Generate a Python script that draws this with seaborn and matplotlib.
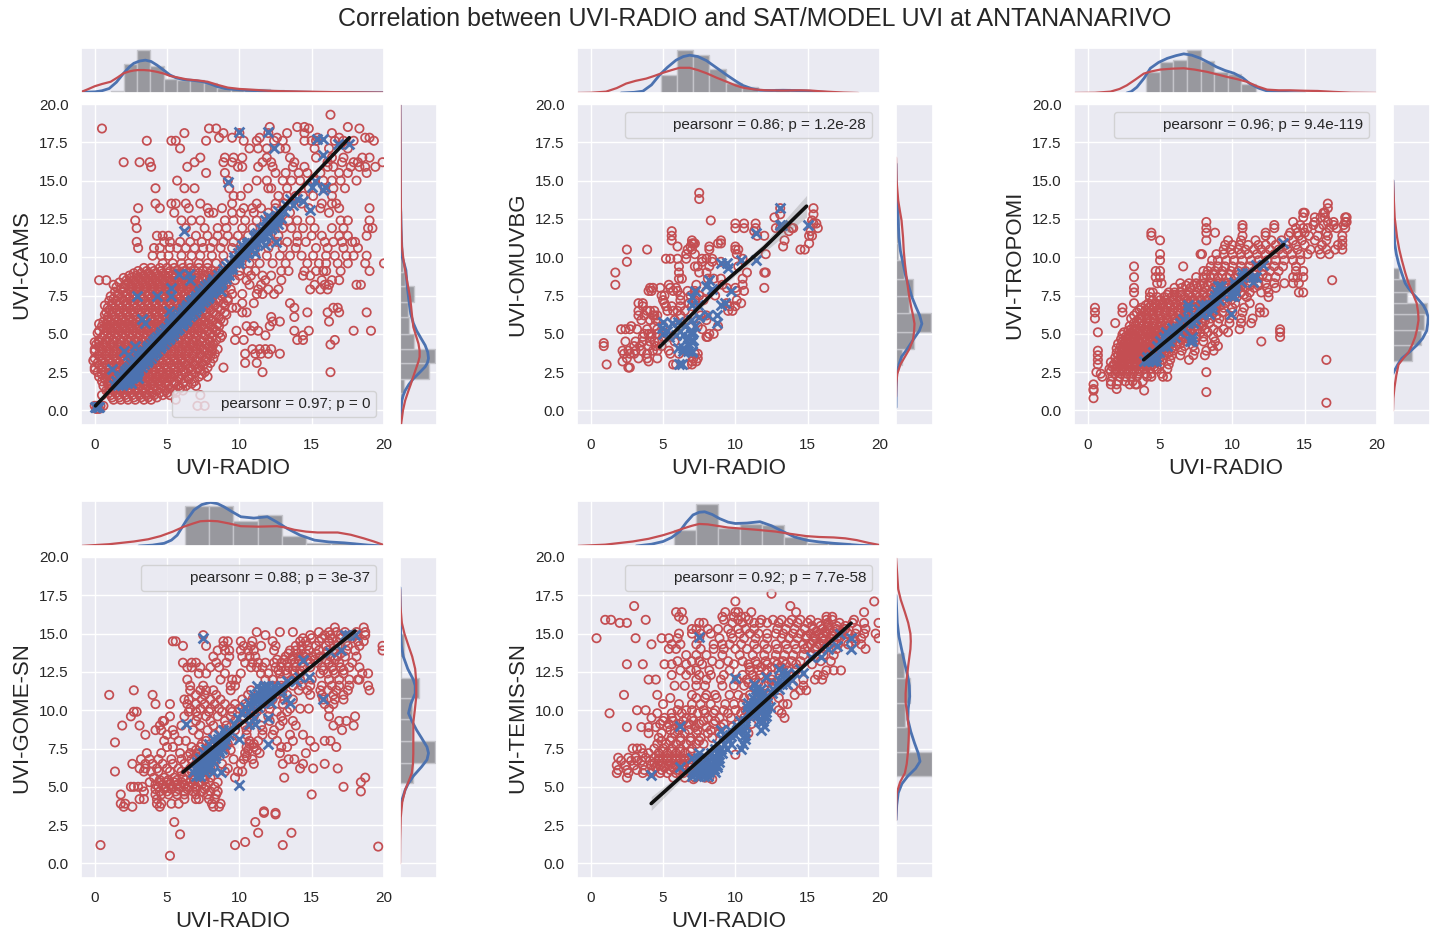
import matplotlib
matplotlib.use('Agg')
import matplotlib.pyplot as plt
from matplotlib.lines import Line2D
import pandas as pd
import seaborn as sns

# ---- scatter values, as {y: [x, x, ...]} ----
cams_red = {
 19.3:[16.3], 18.5:[12.1,14,17.5,14.5], 18.4:[0.5,7.9,8.4,18.3,14.8], 18.1:[6.2,8.9,10,12,16.4,13.3,14.5],
 17.8:[8.6,9.5,11.4,12.6,15.4,16.9,18.7,19], 17.6:[3.6,5.3,5.6,7.7,10.3,11.2,12.4,13,14.5,15,15.3,16.6,17.2,17.9,19.3],
 17.1:[5.9,10.7,11.3,11.9,12.8,13.2,15.2,16.2,17.5], 16.5:[7.3,9,9.6,10.2,11.9,13.5,16.4,18.5,19,15.3,17.2],
 16.2:[2,3.1,3.8,6.9,8.9,9.5,11.6,12.2,13.8,16.1,17.1,17.9,18.2,19.9], 15.9:[3.9,6.4,9.9,10.2,11.3,12.3,13.7,14.5,16.1,16.5,17.7,18.7,19.4,18.3],
 15.5:[7.7,9,12.5,13.2,14.1,14.7,15.6,16.9,17.5,18.8], 15:[5.7,9.2,11.2,11.9,13,13.6,14.2,15.2,15.8,16.4,17,18.1],
 14.5:[4.2,6.2,6.9,9.3,10.6,12,12.2,13.3,14.8,15.9,16.5,17.3], 14:[9.6,10.1,12.7,13.3,13.9,14.4,15.1,16.4],
 13.5:[5.3,5.6,4.2,6.3,7.3,9.5,11.2,12.5,13.1,13.6,14.3,15.7,16.4,16.7], 13.2:[3,4.5,6.5,8.8,7.8,10.3,10.9,11.5,12.5,14.8,15.6,16.9,19],
 12.9:[5.5,7.9,8.2,9.5,10.1,11,12,13.5,16.2], 12.4:[2.8,6,6.7,7.3,9,9.6,10.4,11.2,12,12.8,13.4,14,14.9,17,17.5,19],
 11.9:[2.9,6.3,7.6,8.5,9.1,10.2,10.9,11.6,12.2,13,13.6,14.4,15.2,16.4,17.2,18.9,19.2],
 11.4:[4.3,4.7,5.1,7,7.8,8.5,9.2,9.9,10.6,11.3,12,12.7,14,15,15.7,16.9,17.5,18.8],
 11:[2.9,4.8,5.2,5.9,6.6,7.4,8.2,8.9,9.6,10.3,11.1,11.9,12.6,13.3,14,14.6,15.9,16.5,17.1,17.8,18],
 10.6:[3,4.1,4.5,5.2,5.7,6.3,6.9,7.5,8,8.7,9.5,10.2,11,12,13,13.9,15.3,16.1,17.2,18.2],
 10.1:[4,4.6,5.1,6,6.7,7.3,8.1,8.9,9.7,10.4,11.1,11.9,12.8,13.5,14.3,15.1,16,16.6,17.4,17.9,18.8],
 9.6:[4.7,5.4,6,6.5,7.2,7.8,8.4,9,9.8,10.7,11.4,12.3,13.2,14.7,15.5,16,16.8,17.5,18.7,20],
 9.1:[3,3.6,4.1,4.6,5.2,5.7,6.3,6.9,7.5,8.1,8.7,10,10.6,11.1,12.9,13.4,14.5,15.3,15.8,16,17,19],
 8.8:[2.4,2.9,3.4,3.9,4.4,4.9,5.4,5.9,6.4,7,7.6,8.2,9.3,10,10.8,11.6,12.2,14.4,14.9],
 8.5:[0.3,0.8,2.2,2.7,3.2,3.7,4.2,4.7,5.2,5.7,6.2,6.7,7.2,7.7,8.3,9,9.7,10.5,11.8,12.9,15.7,16.4,16.9],
 8.2:[1.3,2.1,2.5,3,3.5,4,4.5,5,5.5,6,6.5,7,7.6,8.1,9.1,10.7,11.5,15.2,15.9,16.2,18.1,18.4],
 7.9:[1.8,2.4,2.9,3.4,3.9,4.4,4.9,5.4,5.9,6.4,6.9,7.4,7.9,8.5,9.4,11.3,12,12.7,14.9,15.6,16.1],
 7.6:[1.6,2.2,2.7,3.2,3.7,4.2,4.7,5.2,5.7,6.2,6.7,7.2,7.7,8.2,8.9,9.5,10.2,11.2,11.6,12.4],
 7.3:[1.3,1.9,2.4,2.9,3.4,3.9,4.4,4.9,5.4,5.9,6.4,6.9,7.4,7.9,8.5,9.2],
 7:[1.2,1.7,2.2,2.7,3.2,3.7,4.2,4.7,5.2,5.7,6.2,6.7,7.2,7.7,8.2,8.9,10.2,11,13.5],
 6.7:[0.9,1.4,1.9,2.4,2.9,3.4,3.9,4.4,4.9,5.4,5.9,6.4,6.9,7.4,7.9,8.5,9.5,9.8,13.8,16.5,16.8],
 6.4:[0.8,1.2,1.7,2.2,2.7,3.2,3.7,4.2,4.7,5.2,5.7,6.2,6.7,7.2,7.7,8.2,9,10.2,10.5,14.7,16.1,16.9,18.8],
 6.1:[0.9,1.4,1.9,2.4,2.9,3.4,3.9,4.4,4.9,5.4,5.9,6.4,6.9,7.4,7.9,8.6,12.2,13.8],
 5.8:[0.6,1.1,1.6,2.1,2.6,3.1,3.6,4.1,4.6,5.1,5.6,6.1,6.6,7.1,7.6,8.1,8.9,12.3,12.8,16.2],
 5.5:[0.5,0.9,1.4,1.9,2.4,2.9,3.4,3.9,4.4,4.9,5.4,5.9,6.4,6.9,7.4,8,8.6,10.5,11,12.1],
 5.2:[0.3,0.8,1.2,1.7,2.2,2.7,3.2,3.7,4.2,4.7,5.2,5.7,6.2,6.7,7.2,7.8,8.4,9.8,10.8,11.3,13.8,14.8,17.9,19.1],
 4.9:[0.6,1.1,1.6,2.1,2.6,3.1,3.6,4.1,4.6,5.1,5.6,6.1,6.6,7.1,7.6,8.2,8.8,11.8,14.4],
 4.6:[0.3,0.8,1.3,1.8,2.3,2.8,3.3,3.8,4.3,4.8,5.3,5.8,6.3,6.8,7.3,7.9,8.4,9.7,10.3,14,14.4,16.6],
 4.3:[0.1,0.6,1.1,1.6,2.1,2.6,3.1,3.6,4.1,4.6,5.1,5.6,6.1,6.6,7.1,7.7,8.2,16.3],
 4:[0,0.5,1,1.5,2,2.5,3,3.5,4,4.5,5,5.5,6,6.5,7,7.5,8.1,8.5,10.9,11.4,11.8,12.2],
 3.7:[0.3,0.8,1.3,1.8,2.3,2.8,3.3,3.8,4.3,4.8,5.3,5.8,6.3,6.8,7.3,7.9,8.3,10.4,11.1,11.5,12,12.8],
 3.4:[0,0.5,1,1.5,2,2.5,3,3.5,4,4.5,5,5.5,6,6.5,7.1,7.7,8.2],
 3.1:[0.2,0.7,1.2,1.7,2.2,2.7,3.2,3.7,4.2,4.7,5.2,5.7,6.2,6.8,7.4,8,10.4,11.2],
 2.8:[0,0.5,1,1.5,2,2.5,3,3.5,4,4.5,5,5.5,6,6.6,7.2,7.8,8.9],
 2.5:[0.2,0.7,1.2,1.7,2.2,2.7,3.2,3.7,4.2,4.7,5.2,5.7,6.3,7,7.6,11.6,16.3],
 2.2:[0.3,0.8,1.3,1.8,2.3,2.8,3.3,3.8,4.3,4.8,5.3,5.8,6.5,7.2,7.8],
 1.9:[0.5,1,1.5,2,2.5,3,3.5,4,4.5,5,5.5,6.2,6.9],
 1.6:[0.6,1.1,1.6,2.1,2.6,3.1,3.6,4.1,4.6,5.1,5.8,6.3,7],
 1.3:[0.8,1.3,1.8,2.3,2.8,3.3,3.8,4.3,4.9,5.5,6.1],
 1:[0.5,1.1,1.6,2.1,2.6,3.1,3.6,4.1,4.7,5.2,7.3],
 0.7:[1.3,1.8,2.3,2.8,3.4,3.9,5.6], 0.3:[0,0.2,0.4,0.6,7.1,7.6], 0.1:[0.1,0.3],
 # the thick part of the cloud
 9.3:[3.4,3.9,4.5,5,5.5,6.1,6.6,7.2,7.8], 8.95:[2.7,3.2,3.7,4.2,4.7,5.1,5.6,6.1,6.6,7.2,7.9,8.4],
 8.65:[2,2.5,3,3.5,4,4.5,5,5.5,6,6.5,7,7.4,8,8.6], 8.35:[1.7,2.3,2.8,3.3,3.8,4.3,4.8,5.3,5.8,6.3,6.8,7.3,7.9,8.6],
 8.05:[1.5,2,2.6,3.1,3.6,4.1,4.6,5.1,5.6,6.1,6.6,7.2,7.7,8.3,8.9], 7.75:[1.4,2,2.5,3,3.5,4,4.5,5,5.5,6,6.5,7,7.5,8.1,8.7],
 7.45:[1.1,1.6,2.2,2.7,3.2,3.7,4.2,4.7,5.2,5.7,6.2,6.7,7.2,7.7,8.2,8.8], 7.15:[1,1.5,2,2.5,3,3.5,4,4.5,5,5.5,6,6.5,7,7.5,8,8.6,9.2],
 6.85:[0.7,1.2,1.7,2.2,2.7,3.2,3.7,4.2,4.7,5.2,5.7,6.2,6.7,7.2,7.7,8.3,9], 6.55:[1,1.5,2,2.5,3,3.5,4,4.5,5,5.5,6,6.5,7,7.5,8,8.7],
 6.25:[0.7,1.2,1.7,2.2,2.7,3.2,3.7,4.2,4.7,5.2,5.7,6.2,6.7,7.2,7.7,8.4,9.1], 5.95:[0.9,1.4,1.9,2.4,2.9,3.4,3.9,4.4,4.9,5.4,5.9,6.4,6.9,7.4,8,8.7],
 5.65:[0.3,0.8,1.3,1.8,2.3,2.8,3.3,3.8,4.3,4.8,5.3,5.8,6.3,6.8,7.3,7.9,8.5], 5.35:[0.6,1.1,1.6,2.1,2.6,3.1,3.6,4.1,4.6,5.1,5.6,6.1,6.6,7.1,7.6,8.2],
 5.05:[0.2,0.9,1.4,1.9,2.4,2.9,3.4,3.9,4.4,4.9,5.4,5.9,6.4,6.9,7.4,8,8.6], 4.75:[0.5,1,1.5,2,2.5,3,3.5,4,4.5,5,5.5,6,6.5,7,7.5,8.1,8.7],
 4.45:[0,0.3,0.8,1.3,1.8,2.3,2.8,3.3,3.8,4.3,4.8,5.3,5.8,6.3,6.8,7.4,8], 4.15:[0.3,0.8,1.3,1.8,2.3,2.8,3.3,3.8,4.3,4.8,5.3,5.8,6.3,6.8,7.3,7.9],
 3.85:[0,0.5,1,1.5,2,2.5,3,3.5,4,4.5,5,5.5,6,6.5,7,7.6,8.1], 3.55:[0.3,0.8,1.3,1.8,2.3,2.8,3.3,3.8,4.3,4.8,5.3,5.8,6.3,6.8,7.4,8],
 3.25:[-0.1,0.5,1,1.5,2,2.5,3,3.5,4,4.5,5,5.5,6,6.5,7.1,7.7], 2.95:[0.3,0.8,1.3,1.8,2.3,2.8,3.3,3.8,4.3,4.8,5.3,5.8,6.3,6.9,7.5],
 2.65:[0,0.5,1,1.5,2,2.5,3,3.5,4,4.5,5,5.5,6.1,6.7,7.3], 2.35:[0.5,1,1.5,2,2.5,3,3.5,4,4.5,5,5.5,6,6.7,7.4],
 2.05:[0.7,1.2,1.7,2.2,2.7,3.2,3.7,4.2,4.7,5.2,5.8,6.5], 1.75:[0.9,1.4,1.9,2.4,2.9,3.4,3.9,4.4,4.9,5.5,6.1,6.7],
 1.45:[1,1.5,2,2.5,3,3.5,4,4.6,5.2,5.9], 1.15:[1,1.5,2,2.5,3,3.5,4,4.5,5,5.6], 0.85:[1.2,1.7,2.2,2.7,3.2,3.7,4.3],
}
cams_blue = {
 18.2:[10,12], 17.7:[15.4,15.8], 17.4:[16.8,17.6], 17.1:[12.4], 16.7:[15.8], 15:[15.2], 14.9:[9.2], 14.6:[15,15.9], 14.4:[15.8],
 13.7:[14.4], 13.1:[14.9], 11.7:[6.2], 8.9:[5.8,6.5], 8.5:[6.6], 8:[5.3], 6.5:[5.1], 0.2:[0,0.1,0.2,0.3],
 2.7:[1.2,2.2,2.7,3], 2.4:[2,2.3,2.6,2.9], 2.1:[1.7,2,2.3,2.6,3], 1.8:[1.6,1.9,2.2,2.5], 3:[2.5,2.8,3.1,3.4], 3.3:[2.8,3.1,3.4,3.7],
 3.6:[2.3,3.2,3,3.4,3.7,4], 3.9:[2,3.6,3.4,3.7,4,4.3], 4.2:[2.8,3.7,4,4.3,4.6], 4.5:[4,4.3,4.6,4.9], 4.8:[4.3,4.6,4.9,5.2], 5.1:[4.6,4.9,5.2,5.5],
 5.4:[4.9,5.2,5.5,5.8], 5.7:[3.5,5.2,5.5,5.8,6.1], 6:[3.3,5.5,5.8,6.1,6.4], 6.3:[5.8,6.1,6.4,6.7], 6.6:[6.1,6.4,6.7,7], 6.9:[6.4,6.7,7,7.3],
 7.2:[6.7,7,7.3,7.6], 7.5:[2.9,4.3,5.3,7,7.3,7.6,7.9], 7.8:[7.3,7.6,7.9,8.2,8.7], 8.1:[7.6,7.9,8.2,8.5], 8.4:[8.1,8.4,8.7], 9:[8.9,9.2], 9.4:[9.1,9.5], 9.8:[9.6,10],
 10.3:[9.9,10.3,10.6,11.1], 10.8:[10.2,10.5,10.9,11.8], 11:[10.7,11.1,12.5], 11.3:[11,11.4,11.7], 11.6:[11.2,11.6,12], 12:[11.7,12.1,12.4],
 12.4:[11.8,12.3,12.6], 12.7:[12,12.6], 13:[12.7,13.1], 13.4:[13.2,13.7], 13.8:[14,13.5],
 # the solid part of the band
 1.65:[1.3,1.6,1.9], 1.95:[1.5,1.8,2.1,2.4], 2.25:[1.8,2.1,2.4,2.7], 2.55:[2.1,2.4,2.7,3], 2.85:[2.4,2.7,3,3.3], 3.15:[2.7,3,3.3,3.6], 3.45:[3,3.3,3.6,3.9],
 3.75:[3.3,3.6,3.9,4.2], 4.05:[3.6,3.9,4.2,4.5], 4.35:[3.9,4.2,4.5,4.8], 4.65:[4.2,4.5,4.8,5.1], 4.95:[4.5,4.8,5.1,5.4], 5.25:[4.8,5.1,5.4,5.7],
 5.55:[5.1,5.4,5.7,6], 5.85:[5.4,5.7,6,6.3], 6.15:[5.7,6,6.3,6.6], 6.45:[6,6.3,6.6,6.9], 6.75:[6.3,6.6,6.9,7.2], 7.05:[6.6,6.9,7.2,7.5],
 7.35:[6.9,7.2,7.5,7.8], 7.65:[7.2,7.5,7.8,8.1], 7.95:[7.5,7.8,8.1,8.4], 8.25:[7.8,8.1,8.4,8.7], 8.55:[8.2,8.5,8.8,9.1], 8.85:[8.5,8.8,9.1,9.3],
 9.2:[8.9,9.3,9.5], 9.6:[9.3,9.7,10], 10:[9.6,10,10.4], 10.5:[10.1,10.4,10.8], 10.95:[10.5,10.9,11.3], 11.45:[11.1,11.5,11.8], 11.85:[11.5,11.9,12.2],
 12.2:[11.9,12.3,12.7], 12.55:[12.2,12.6,12.9],
}
omuvbg_red = {
 14.2:[7.5], 13.8:[7.5], 13.2:[13.1,15.4], 12.8:[13.1,15.4], 12.6:[12.7], 12.4:[8.3,15.3], 12.2:[10,10.6,11.4,15.4,15.6],
 11.9:[10,10.6,11.4,12.8,13.9,14,15.7,13.1], 11.7:[5.6,11.3,15.2,13.7], 11.4:[5.6,11.5,12,15.1,15.3], 11.1:[5.6,9,7,13.4],
 10.9:[7,7.1,7.2,8.8,9,15.1], 10.7:[6,6.9,10,8.2,13.3], 10.5:[2.5,3.9,6.7,7,8.2,10,10.2,14.5,14.8], 10.2:[10.1,6.6,7.2,12.1],
 9.9:[5.2,5.5,6,6.6,7.7,8,8.4,10.5], 9.7:[2.5,7.7,8.4,9], 9.4:[6.1,7.2,7.4,8.2,10.2], 9:[1.7,6.1,7.5,8,10.8,12.1,12],
 8.6:[6.1,6.3,8.5,9,10.5,8.1], 8.2:[1.7,5.4,7.3,10.5,9.1], 8:[4.1,4.3,4.8,5.5,5.9,9.4,10,12], 7.8:[4,4.2,5.7,6,6.7,7.2,8,10.1,10.6],
 7.5:[4.9,5.1,6.2,6.9,7.5,8.6], 7.2:[5,6.2,7.2,7.8,10.1], 7:[3.3,3.6,5.1,6.8,9.4,10.4], 6.8:[3.6,5.2,5.6,6.2,7,9.6,10],
 6.5:[3.3,3.9,4.1,4.4,5.3,5.7,6,6.5,9.5,9.8], 6.2:[3.3,3.7,4.3,4.4,4.6,6.2,7.6,8], 5.9:[3.5,4.1,4.5,5.8,6.7,8], 5.5:[2.8,4.4,5,7.4,8.8],
 5.3:[2.1,2.4,2.7,3.2,3.9,4.6,7.7], 5:[3.7,4,4.2,4.6,5.2,8.2,8.5], 4.8:[3.6,4.2,5,5.5,8,8.1], 4.5:[2.4,3.1,3.6,4.1,4.4,4.7,5.8],
 4.4:[0.9], 4.2:[0.9,3,3.4,4,4.5,4.9], 3.9:[2.2,2.6,3.1,3.5,4.3,4.6,5.4], 3.7:[2.3,2.7,3,3.9,5.5,6.1,7.4,7.2],
 3.4:[2.5,3.3,3.9,4.6,7.1,7.4], 3.2:[2.2,4,7,7.3], 3:[1.1,5.7,5.9,6.7,7], 2.8:[2.6,2.7],
}
omuvbg_blue = {
 13.2:[13.1], 12.1:[13.2,13.1,15], 11.6:[11.4], 9.8:[10.4,11.4], 9.6:[9,9.4], 9.3:[9.5], 8.5:[8.2], 8.1:[8], 7.9:[8.4], 7.8:[7.2,9.7],
 7.4:[7], 7:[9.3], 6.9:[7,7.4,9], 6.2:[8.1,8.7], 6.1:[7.5], 5.9:[6.9], 5.8:[5,6], 5.7:[5.6,8.7], 5.5:[7.2,6.5], 5.4:[4.9], 5.2:[5.3,6.2,7],
 5:[5,7,6.9], 4.9:[5.9,6.4], 4.8:[5.4,6.7], 4.6:[6.6,7.1], 4.5:[7,6.9], 4.2:[6.8], 4.1:[6,6.4], 3.9:[6.4,6.7,7], 3.8:[7], 3:[6.1,6.3],
}
tropomi_red = {
 13.5:[16.6], 13.2:[16.6], 12.9:[14.9,15,16.3,16.4], 12.6:[14.9,15.7,16.1,16.4,17.8,17.9], 12.3:[8.2,14.2,15.7,16.6,17,17.8,17.9],
 12.1:[10.7,12.9,14.7,15.6,16.3,17,17.7], 11.9:[8.2,10.7,12.9,14.4,14.9,15.2,16,16.7,17.2,17.8], 11.6:[4.4,8.2,8.8,12.3,14,14.5,15,16.5],
 11.4:[4.4,10.7,12.3,13.9,14.6,15.3,15.9,16.6,17.6], 11.1:[5,8.2,9.7,10.6,11.6,12.7,13.4,14.2,14.8,15.7,16.5,17.6],
 10.8:[9.5,10,10.5,11.1,11.8,12.3,13,13.7,14.4,15,16.2,17.3,17.6], 10.5:[9.4,9.9,10.4,10.9,11.5,12,12.6,13.2,13.8,14.5,15.4,16,16.5,17.1,17.6],
 10.2:[5,7.8,7.9,8.9,9.4,10,10.6,11.1,11.7,12.3,12.9,13.5,14.1,14.7,15.2,16.1,16.7], 9.8:[5,8.6,9,9.6,10.1,10.7,11.3,11.8,12.4,13,13.6,14.2,14.7],
 9.4:[3.2,6.6,8.5,9,9.5,10,10.6,11.2,11.7,12.3,12.9,13.5,14.4], 9.1:[4.7,5,8,8.3,8.8,9.3,9.9,10.4,10.9,11.5,12.1,12.6,13.2,14.4,14.9],
 8.7:[3.2,4.7,5,7.5,8,8.5,9,9.6,10.2,10.7,11.3,11.8,12.4,13,14.2,14.5,14.9], 8.5:[16.9],
 8.3:[4.8,5.1,6.4,7,7.5,8,8.5,9,9.5,10.1,10.6,11.2,11.8,12.3,12.9,13.6,14.2,14.6], 8:[3.2,6,6.5,7.1,7.6,8.1,8.7,9.2,9.7,10.3,10.9,11.5,12.4,13],
 7.7:[3.2,4.3,4.5,5.6,6,6.4,7,7.5,8,8.5,9,9.5,10,10.6,11.2,12,12.5,14.6,14.9], 7.4:[4.3,4.8,5.3,5.8,6.2,6.7,7.2,7.7,8.2,8.7,9.2,9.7,10.3,11,12.5],
 7:[3.2,4.2,4.7,5.2,5.6,6.1,6.6,7,7.5,8,8.5,9,9.5,10.2,11.2], 6.7:[0.5,2.4,3.7,4.2,4.6,5,5.5,6,6.4,6.9,7.4,7.9,8.4,8.9,9.4,10,10.8,11.9],
 6.4:[0.5,2.4,3.4,3.9,4.3,4.8,5.3,5.7,6.2,6.7,7.2,7.7,8.2,8.7,9.3,10,10.7,11.9,12.2], 6:[0.5,3,3.6,4.1,4.6,5,5.5,6,6.5,7,7.5,8,8.5,9.1,9.8,10.6,11.4],
 5.7:[1.9,3.2,3.6,4.1,4.5,5,5.4,5.9,6.4,6.9,7.4,7.9,8.4,9,9.8,10.6,11.3], 5.3:[3,3.4,3.9,4.3,4.8,5.2,5.7,6.1,6.6,7.1,7.6,8.1,8.7,9.4,10.5,13.3],
 5.1:[0.7,2.5,3,3.5,4,4.4,4.8,5.3,5.8,6.2,6.7,7.2,7.8,8.3,9,9.7,13.3], 4.8:[2.6,3,3.4,3.9,4.3,4.7,5.2,5.6,6,6.5,7,7.5,8,8.7,13.3],
 4.5:[2.4,2.8,3.2,3.6,4,4.5,4.9,5.3,5.8,6.3,6.8,7.4,8,8.8,12], 4.2:[2.3,2.7,3.1,3.5,3.9,4.3,4.7,5.1,5.6,6.1,6.7,7.3,8.6,9],
 3.9:[0.7,2.2,2.5,2.9,3.3,3.7,4.1,4.5,5,5.4,5.9,6.5,7.4,8.2,8.7], 3.6:[0.7,2.1,2.4,2.8,3.2,3.6,4,4.4,4.8,5.3,5.8,6.4,7.3,8.1],
 3.3:[0.7,2.1,2.4,2.7,3,3.4,3.8,4.2,4.7,5.2,5.7,7,16.5], 3:[0.7,1.8,2.2,2.5,2.9,3.3,3.7,4.1,4.5,5,5.6], 2.7:[1.5,1.9,2.3,2.7,3.1,3.5,3.9,4.3,4.8,5.5],
 2.5:[0.6,8.2], 2.4:[0.9,1.9,2.3,2.7,3.1,3.5,4,4.4,5.1], 2.2:[1,1.7,2.2,2.6,3,3.4,4.1,4.4,5.2,5.5], 1.9:[1.6,2.1,2.6,3.1,3.8],
 1.7:[0.4,1.6,2,2.9,3.3,3.4], 1.4:[0.4,2], 1.3:[0.4,3.9], 1.2:[8.2], 0.8:[0.4], 0.5:[16.5],
 # the thick part of the band
 8.85:[8.2,8.7,9.3,9.8,10.4,10.9,11.5,12.1], 8.15:[6.8,7.3,7.8,8.3,8.9,9.4,10,10.6,11.2,11.8], 7.55:[5.5,6,6.5,7,7.5,8,8.5,9,9.6,10.2,10.8],
 7.2:[4.5,5,5.4,5.9,6.4,6.9,7.3,7.8,8.3,8.8,9.3,9.9], 6.85:[4,4.4,4.8,5.2,5.7,6.2,6.7,7.2,7.7,8.2,8.7,9.2], 6.55:[3.6,4,4.4,4.9,5.4,5.9,6.3,6.8,7.3,7.8,8.3,8.8],
 6.2:[3.2,3.7,4.1,4.5,5,5.4,5.9,6.3,6.8,7.3,7.8,8.3,8.9], 5.85:[3.4,3.8,4.3,4.7,5.2,5.6,6.1,6.6,7.1,7.6,8.1], 5.5:[2.9,3.3,3.7,4.1,4.5,5,5.5,5.9,6.4,6.9,7.4,7.9],
 5.2:[2.8,3.2,3.6,4.1,4.6,5,5.5,5.9,6.4,6.9,7.4], 4.95:[2.4,2.8,3.2,3.7,4.1,4.5,5,5.4,5.8,6.3,6.8], 4.65:[2.3,2.7,3.1,3.5,3.8,4.3,4.7,5.1,5.5,6,6.5,7],
 4.35:[2.1,2.5,2.9,3.3,3.7,4.1,4.5,4.9,5.3,5.8,6.4], 4.05:[2,2.4,2.8,3.2,3.6,4,4.4,4.8,5.3,5.8], 3.75:[2,2.3,2.7,3.1,3.5,3.9,4.3,4.7,5.1,5.6],
 3.45:[1.9,2.3,2.6,3,3.4,3.8,4.1,4.5,5], 3.15:[1.6,2,2.4,2.8,3.2,3.6,4,4.4,4.8], 2.85:[1.7,2.1,2.5,2.9,3.3,3.7,4.1,4.6], 2.55:[1.6,2,2.4,2.8,3.2,3.6],
}
tropomi_blue = {
 3.2:[3.9,4.2,4.5,4.7], 3.5:[4.1,4.4,4.7], 3.8:[4.5,4.9], 4.2:[4.8,5.2,5.5], 4.5:[5,5.4,5.6,7.1,7.2], 4.8:[5.3,5.7,6,7.2], 5.1:[5.4,5.9,6.3],
 5.4:[5.8,6.2,6.6], 5.7:[6.4,6.9,7.3], 6:[6.6,7,7.4], 6.3:[7.8,8,8.4,9.9], 6.6:[6.9,7.7,8.2,8.6], 6.9:[6.9,7.9,8.2,8.6], 7.2:[8.7,9.1],
 7.5:[8.8,9.3,9.9,10.1], 7.8:[8.9,9.2,10,10.2], 8.1:[9,10.2,9.2], 8.4:[10.1,10.6,11.4], 8.7:[10.7,11.4,11.6], 9:[10.7,11], 9.5:[11.6,12.1], 10.9:[13.5],
}
gome_red = {
 15.4:[16.6,18.6], 15.1:[11.2,12.8,13.7,15.5,16.2,16.7,17.3,18.1,18.7], 14.9:[7.5,11.8,14.9,15.9,16.3,17,17.7,18.1,18.7],
 14.5:[5.4,5.6,8.9,9.2,10.1,10.9,12.3,14.2,14.6,15.5,16.2,16.7,17.4,18.2,18.6], 14.2:[6.1,7.7,8.9,10.3,10.8,11.5,12.5,13.9,14.3,14.7,15.3,16,16.8,17.5,18.3,19.9],
 13.9:[8.5,9,9.3,10.1,10.6,11,12.4,13.5,13.9,14.3,14.8,15.5,16.1,16.6,17.4,18,19.9], 13.5:[8.2,9.3,10.2,10.7,11.1,13.2,13.7,14.1,14.5,15,15.6,16.3,16.8,17.3,18.1],
 13.1:[6.1,6.7,7,8.4,9.1,10.4,10.9,11.3,11.8,12.4,12.9,13.3,13.8,14.3,14.9,15.4,16.2,16.9,17.8], 12.8:[6.4,6.7,7.3,8,8.6,10.8,11.2,11.6,12.5,12.9,13.4,13.9,14.4,14.9,15.7,16.4,17,17.6,18.3],
 12.4:[7.2,7.7,9,10.1,11.5,12,12.8,13.3,13.8,14.2,15.6,16.1,16.6,17.2,18.5,18.9], 12:[6.4,8.7,9.5,9.8,11.8,12.3,12.9,13.6,14.2,15,16.2,16.9,17.6,18.2,18.3],
 11.6:[6.6,7.5,9.4,9.7,12.3,12.9,13.7,14.3,14.9,15.7,16.4,16.9,17.6,18.9], 11.3:[2.7,6.6,7.3,7.7,8.2,9.4,10.8,13,14.1,14.7,15.6,16.1,16.7,17.5,19],
 11:[1,4,7,7.6,8.4,10.6,11.7,12.5,13.3,14.9,15.7,16.5,17.2], 10.7:[6.2,6.5,7.4,8,8.7,10.2,10.9,11.5,12.3,13.1,13.7,15.8,16.6,17.2],
 10.4:[4.2,5.2,6.4,7,7.6,8.3,9,9.7,10.4,11.2,12.1,13,15.9,16.5], 10.1:[6.6,7.3,8,8.6,9.4,10,10.8,11.5,12.1,13.5,14.2,14.8,16.2],
 9.9:[2.7,2.9,6.5,7,7.9,8.8,9.5,10.3,11.2,12.6,13.3], 9.6:[2.5,5.2,6.2,7.1,7.7,8.5,9.4,10.3,11,12,12.9,16.2,18],
 9.3:[4.7,4.8,7,8,9,9.7,10.7,12.1,13,13.7,16.9,17.4], 9:[1.9,3.1,4.5,6,7.3,8.2,9.1,10.4,11.5,12.8,13.9,16.5,17.9],
 8.7:[4.2,4.6,5.4,6.8,7.8,8.7,9.7,10.5,11.6,12.4,17.1], 8.4:[3.5,5,5.5,7.2,8.3,9.1,10.5,11.6,12.3,13.5,14.4],
 8:[4.8,5.8,6.3,7.7,8.4,9.5,10.7,11.3,12.6,13.7,14.9,15.9,16.3], 7.9:[1.4], 7.6:[5,5.4,6.7,7.3,8.2,9,10.5,11,12.9,13.3,15.2,16.7],
 7.2:[3.6,4.6,5.9,6.6,7.2,8,9,10.4,11.4,12.8,14.6], 6.8:[3.2,3.8,4.4,5.3,6,6.7,7.3,8.3,9.6,10.3,10.9,13.4,13.8],
 6.5:[2.6,3.5,4,4.7,5.4,6.2,7,7.8,8.8,10.1,11,13,14.4,15.9], 6.2:[3.1,3.5,4.3,5,5.8,6.6,7.3,8,9.2,14.2,15.1,16.8],
 6:[1.4,3.4,3.9,4.4,5.2,6,6.7,7.5,9,9.9,10.2], 5.6:[4.1,4.8,5.5,6.1,6.8,7.5,8,9.7,13.1,18.7], 5.3:[3.8,4.5,5,5.5,6,6.6,7.2,7.9,8.5,18.4],
 5:[2.5,2.7,3,3.3,4.4,4.9,5.3,5.9,6.5,7,7.7,8.3,17.2], 4.7:[3.4,4.5,5,5.6,6.2,6.8,7.4,8,8.5,18.4], 4.5:[1.8,4.2,4.6,5.1,5.7,6.2,7,7.8,8.4,15],
 4.2:[3.1,3.4,4.3,6.2,7,7.2,7.9,8.3], 3.9:[1.8,2.1,4.3,4.6,5.3,5.8,8.1,8.7], 3.7:[2,2.6,4.5,8.2,8.6], 3.4:[11.7], 3.3:[11.7,12.5], 3.2:[12.5],
 2.7:[5.5,11.1], 2:[11.3,13.6], 1.9:[5.9], 1.4:[10.4], 1.2:[0.4,9.7,13], 1.1:[19.6], 0.5:[5.2],
 # the thicker clumps
 14.7:[14.4,15,15.7,16.4,17,17.8], 13.7:[13.4,14,14.6,15.3,16,17], 13.3:[12.6,13.1,13.6,14.1,14.7,15.2,16,16.6], 12.6:[12.7,13.2,13.7,14.2,15.8,16.5,17.2],
 7.8:[7.4,8,8.6,9.2,10.7,11], 7.4:[7,7.7,8.4,9.4,10.6,11.2], 7:[6.4,7,7.6,8.4,10.5], 5.45:[4.5,5.1,5.7,6.3,6.9,7.6], 5.15:[4.2,4.7,5.2,5.7,6.2,6.8,7.4],
 4.85:[4.2,4.8,5.3,5.8,6.4,7,7.6],
}
gome_blue = {
 5.7:[7,7.3], 5.1:[10], 6:[6.8,7.2,7.6,8.2,8.7], 6.3:[7,7.3,7.6,8], 6.6:[7.1,7.5,7.8,8.2], 6.9:[7.3,7.6,7.9,8.3], 7.2:[7.5,7.9,8.2,8.6],
 7.5:[7.7,8.1,8.5,8.8], 7.8:[7.9,8.3,8.7,9,12], 8.1:[8.2,8.5,9,10], 8.4:[8.6,9,9.3], 8.7:[8.9,9.3], 9.1:[6.3,9.6,10.7,11.1], 9.5:[9.9,11,12],
 9.9:[10.2,10.6], 10.2:[10.4,10.8,11.3], 10.5:[10.7,11,11.4,12.2,13.5], 10.7:[11,11.3,11.7,13.2,15.8], 11:[11,11.4,11.8,12.2], 11.3:[11.4,11.7,12.1,12.5,12.9],
 11.6:[11.2,11.7,12,12.4,12.9], 11.9:[13.3,13.9], 12.2:[14.8,14.1], 13.3:[14.4], 13.8:[16.3], 13.9:[17], 14.7:[7.5], 14.9:[17.3,17.6,18],
 6.15:[6.9,7.2,7.5,7.8], 6.45:[7.2,7.5,7.9], 6.75:[7.4,7.7,8.1], 7.05:[7.6,8,8.4], 7.35:[7.9,8.2,8.6],
}
temis_red = {
 17.6:[12.5], 17.1:[10,19.6], 16.8:[3,13.8], 16.4:[5.9,6.3,9.3,10,10.2,11.1,14.2,18.9], 16.1:[6.1,9.1,9.9,10.4,10.7,16.3,16.7],
 15.9:[1,1.4,3.8,6.4,9.2,10.2,10.9,11.8,12.6,13.2,13.9,14.5,15.2,16.3,16.7,18.2], 15.7:[2,2.5,7.5,7.8,9.8,10.5,11.3,11.7,12.2,13,13.7,14.3,15,15.7,16.4,17.2,18.1,18.9,19.9],
 15.3:[7,7.3,8.1,8.8,9.5,10.2,10.7,11.3,12.9,13.5,14.1,14.8,15.4,16,16.5,17,17.6,18.4,19], 15:[6.1,7,7.6,8.3,9.7,10.3,11,11.6,12.2,12.8,13.3,14,14.5,15.2,15.8,16.3,16.7,17.4,17.8,18.3,18.9,19.7],
 14.7:[0.4,3.1,4.9,5.4,6,7.5,8.9,9.8,10.6,11.4,12.2,13.2,13.7,14.3,14.9,15.5,16,16.6,17.2,18.1,18.7,19.9], 14.3:[4.2,5.6,6.2,7.3,8.5,9.1,9.6,10.4,11.3,12,12.8,13.5,14.1,14.7,15.2,15.8,16.5,17.1,17.8,18.7],
 14:[5.4,5.9,7.6,8.5,9.2,10,10.8,11.5,12.2,12.9,13.6,14.2,14.8,15.5,16.2,17,19], 13.6:[6.6,7.3,8,9.1,10.3,11.2,12,12.8,13.4,14,14.7,15.3,16.1,16.8],
 13.2:[6,7,7.5,8.4,9.5,10.5,11.4,12.1,12.7,13.3,13.9,14.5,15.9,16.6], 13:[2.5,3.6,5.1,5.6,6.6,7.7,8.9,9.9,10.9,11.5,12.2,12.9,13.5,14.2,15.3],
 12.6:[6.2,6.9,7.3,8.2,9.6,11,11.6,12.2,13,13.6,14.2,16.3,16.8,17.3], 12.3:[5.6,6.6,7.5,8.3,9.2,10.5,11.2,11.7,12.5,13.1,13.8,15.7,16.1],
 12:[4,4.5,7.3,8,9,10.1,10.8,11.4,12.5,14.7,15.5,16], 11.6:[5.8,6.5,7.3,7.9,9.1,9.9,10.6,11.2,12,12.7,14,14.7], 11.3:[14.5,14.9],
 11:[2.3,4.6,7,8,8.6,9.6,10.2,11,11.8,12.4,14.1], 10.8:[5.5,7.3,7.9,8.7,10.6,11.7,13], 10.4:[5,6.1,7,7.6,8.3,9.3,9.9,10.5,11.2,12.3,13.3,13.6],
 10:[3.2,3.8,6,6.6,7,7.8,8.6,9.2,10,10.7,11.4,12.2,13], 9.8:[1.3,4.6,5.6,6.3,7.4,7.9,8.5,9.5,10.4,13.2], 9.5:[4.2,5.1,5.6,6.6,7,8.1,8.9,9.7,10.6,11.9,13.4],
 9.1:[4.8,5.4,6.1,6.8,7.5,8.5,9.2,10.2,11.1], 8.9:[2.5,3.5,4,4.5,5.3,6.2,7.2,8,9,9.8], 8.5:[4,4.9,5.8,6.5,7.3,8.1,8.9,10.9], 8.2:[4.7,5.6,6.2,6.9,7.6,8.4],
 7.8:[4.6,5.2,5.9,6.6,7.3,7.8], 7.5:[2.9,3.2,3.5,4.4,5,5.6,6.2,7], 7.2:[3.6,4,4.7,5.3,5.9,6.5], 7.1:[10], 6.9:[1.9,2.6,3.1,3.8,4.4,5,5.6,6.2,6.8],
 6.7:[2.1,2.8,3.2,3.5,4.1,4.7,5.3,5.9,6.5,7.3,7.9], 6.4:[1.8,2.4,3,3.6,4.2,4.8,5.4,5.9,6.4,7,7.6,8], 6.1:[1.9,2.5,3.2,3.7,4.3,4.9,5.5,6.1,6.6,7.2,7.8],
 5.9:[1.8,2.6,3.6,4.2,4.8,5.3,5.9,6.4,7,7.6], 5.6:[2.5,5.7,6.5,7.2,7.9,8.2], 5.5:[7.1,8.4],
 # the thicker clumps
 15.5:[15.3,15.9,16.4,17,17.6], 15.15:[15.6,16.2,16.8,17.4], 14.85:[14.9,15.5,16.1,16.7,17.2], 14.5:[15.4,16.1,16.8,17.5,18.3], 14.15:[15,15.6,16.3],
 12.8:[11,11.8,12.5,13.2], 11.8:[10.9,11.6,12.3,12.9], 9.3:[5,5.7,6.4,7.1,7.8,8.6], 8.7:[5.5,6.1,6.8,7.4,8.3], 8:[4.9,5.5,6.2,6.9,7.5], 7.3:[5,5.6,6.2,6.9],
 6.55:[4.4,5,5.6,6.2,6.8,7.4], 6.25:[4.5,5.1,5.7,6.3,6.9,7.5], 6.85:[4.7,5.3,5.9,6.5],
}
temis_blue = {
 5.7:[7,7.4,7.8,8.1], 5.8:[4.2], 6:[7,7.4,7.8,8.2,8.6], 6.3:[6.2,7.4,7.8,8.2,8.7], 6.6:[7.2,7.7,8.1,8.5,8.9], 6.9:[7,7.4,8,8.4,8.9], 7.2:[7.5,8.3,8.7,9.1],
 7.5:[8.6,9,9.4,10.4], 7.8:[8.7,9.2,9.7,10.5], 8.1:[9.1,9.5,10.7], 8.4:[9.2,9.6,10,10.7], 8.7:[9,9.6,10.1,10.6,11.8], 9:[6.2,10.1,10.7,12], 9.3:[10.3,10.7,11.6,11.9],
 9.6:[11.2,11.5,11.9,12.1], 9.9:[10.9,11.2,11.7,12.1], 10.2:[10.8,11.2,11.6,12.1,12.4], 10.5:[10.9,11.3,11.7,12.2], 10.8:[11.2,11.6,12], 11.1:[11.4,11.9,12.5],
 11.4:[11.4,11.8,12.6,13], 11.7:[11.3,12.9,13.2,13.6], 12:[13,13.4,13.9], 12.1:[10], 12.2:[12.1], 12.4:[13.2,13.6,14.1,14.7], 12.7:[13,14.5], 13.5:[15.2,15.9], 14:[16.4,18],
 14.2:[17], 14.7:[18], 14.8:[7.5], 15:[17.2],
 5.85:[7.2,7.6,8], 6.15:[7.3,7.7,8.1,8.5], 6.45:[7.5,7.9,8.3,8.7],
}

# ---- fitted line ends and the width of the band round them ----
cams_line = ([0.05,17.6],[0.3,17.8],[0.03,0.03])
omuvbg_line = ([4.76,9,12,14.92],[4.14,8.18,10.63,13.33],[0.3,0.15,0.3,0.7])
tropomi_line = ([3.87,8,13.55],[3.31,6.55,10.83],[0.15,0.08,0.2])
gome_line = ([6.1,12,18],[5.96,10.57,15.17],[0.12,0.08,0.3])
temis_line = ([4.18,7,12,18],[3.91,6.3,10.55,15.68],[0.45,0.15,0.08,0.15])

# ---- marginal histograms: bin edges and heights (% of the marginal axes) ----
cams_top_edges = [1.15,2.03,2.95,3.85,4.77,5.7,6.6,7.55,8.45,9.4,10.3,11.2,12.15,13.1,14,17.7]
cams_top_bars = [5,64,95,60,32,30,29,23,12,9,8,8,6,4,2]
cams_side_edges = [0,1.15,2.07,3.1,4.03,5,6.1,7.08,8.1,9.04,10,11,12,13]
cams_side_bars = [5,11,79,95,38,25,22,38,14,8,5,4,3]
omuvbg_top_edges = [4.87,5.98,7.09,8.18,9.38,10.48,11.57,12.72,13.76,15.03,16.2]
omuvbg_top_bars = [41,95,85,54,23,14,3,9,4,3]
omuvbg_side_edges = [2.94,4.03,5.12,6.36,7.5,8.6,9.8,10.9,12.1,13.3]
omuvbg_side_bars = [15,50,95,35,47,22,6,6,8]
tropomi_top_edges = [4.03,5,5.9,6.87,7.8,8.76,9.7,10.62,11.6]
tropomi_top_bars = [47,68,74,95,71,47,42,21]
tropomi_side_edges = [3.2,4.25,5.27,6.3,7,7.7,8.6,9.3]
tropomi_side_bars = [51,76,85,93,37,60,17]
gome_top_edges = [6.24,7.9,9.56,11.3,12.93,14.64,16.33,18]
gome_top_bars = [89,90,55,69,22,7,6]
gome_side_edges = [5.24,6.55,7.97,9.4,10.8,12.1,13.5,15]
gome_side_bars = [36,95,32,32,52,3,11]
temis_top_edges = [5.75,7.3,8.8,10.3,11.85,13.37,14.92,16.42,17.92]
temis_top_bars = [36,93,39,50,47,21,7,6]
temis_side_edges = [5.72,7.3,8.9,10.5,12.1,13.75,15.4]
temis_side_bars = [96,35,24,39,22,4]

# ---- density curves: (uvi, height in % of the marginal axes) ----
cams_top_blue = ([-1,-0.5,0,0.5,1,1.5,2,2.4,2.7,3.1,3.5,3.9,4.3,4.8,5.2,5.6,6.1,6.8,7.5,8,8.5,9,9.6,10.5,12,14,16,20],
                 [2,2,2.5,5,10,24,44,58,66,71,73,70,62,50,40,34,30,28,25,20,14,10,8,6,4,2,1,0.5])
cams_top_red = ([-1,-0.5,0,0.5,1.1,1.6,2,2.4,2.7,3,3.4,3.8,4.3,4.8,5.2,5.8,6.4,7.1,7.8,8.5,9.2,10,10.8,12,13,16.5,20],
                [1.5,8,15,20,25,35,44,48,50,51,51,50,47,43,38,34,30,28,25,18,12,9,7.5,5,4,2,0.7])
cams_side_blue = ([-0.9,0,0.65,1,1.3,1.7,2.07,2.5,2.85,3.1,3.4,3.8,4.25,4.7,5.2,5.7,6.3,6.8,7.4,8.2,9.15,9.6,10,10.8,11.8,14,20],
                  [0,2,5,9,14,24,36,54,68,74,77,75,68,57,45,36,29,26,23,19,16,11,6,4.5,3,1,0])
cams_side_red = ([-0.9,0,0.65,1.3,1.7,2.07,2.5,2.85,3.2,3.5,3.9,4.35,4.9,5.45,6.3,6.8,7.4,8.2,9.15,9.9,10.7,12,14,20],
                 [3,8,14,23,29,34,40,45,50,53,53,50,43,36,32,30,27,21,14,9,5,3,2,0.5])
omuvbg_top_blue = ([2.1,3,3.6,4.2,4.76,5.3,5.9,6.4,6.84,7.4,8,8.7,9.4,10,10.5,11.1,11.7,12.5,13.3,14.1,14.9,15.7,16.5],
                   [0,1.5,4,18,40,57,73,81,84,81,72,56,40,27,17,10,6,5.5,6,5.5,4.5,2.5,1])
omuvbg_top_red = ([-1,0,1.06,1.8,2.45,3.1,3.83,4.4,5,5.6,6.14,6.84,7.4,8,8.7,9.4,10,10.5,11.3,12.1,13.3,14.5,15.2,15.8,16.6,17.5,18.5],
                  [0,0.5,3,11,21,27,32,38,45,51,56,56,51,44,34,25,17,12,8,6,5.5,6,5.5,4,2.5,1,0])
omuvbg_side_blue = ([0.2,1.5,2.4,3,3.5,4,4.6,5.2,5.66,6.2,6.75,7.4,8.06,8.8,9.6,10.4,11.3,12.4,13.2,13.9,15,16.1],
                    [0,0.5,2,8,15,30,46,63,70,64,54,43,35,26,19,12,8,6,4,2,0.5,0])
omuvbg_side_red = ([0.9,1.8,2.4,3,3.5,4,4.6,5.2,5.66,6.2,6.75,7.4,8.06,8.8,9.6,10.4,11.3,12.4,13.1,13.7,15,16.5],
                   [0,1,3.5,12,24,36,46,49,50,46,41,36,32,28,24,21,19,15,10,6,1.5,0])
tropomi_top_blue = ([2.7,3,3.4,3.9,4.33,4.9,5.5,6.1,6.64,7.2,7.8,8.4,8.9,9.5,10.1,10.7,11.2,11.8,12.4,13,13.5,15],
                    [0,3,13,33,55,68,77,83,87,84,77,67,58,50,44,34,21,11,4.5,2.5,1.5,0])
tropomi_top_red = ([-1,0.5,1.57,2.2,2.7,3.3,3.87,4.4,5,5.8,6.64,7.4,8.25,9,9.6,10.3,11,11.7,12.4,13.2,14,15,15.9,17,18.2,20],
                   [0,0.5,3,9,17,30,43,48,52,54,55,52,47,41,36,31,25,15,7.5,6,6,5,4.5,2.5,0.7,0])
tropomi_side_blue = ([2.4,2.6,3,3.4,3.8,4.25,4.7,5.2,5.7,6.1,6.5,6.86,7.2,7.6,8,8.3,9,9.6,10.2,10.9,12.6,15],
                     [0,4,13,24,44,64,80,91,94,95,90,82,70,55,41,33,23,15,9,4.5,2,0])
tropomi_side_red = ([0,0.8,1.5,2.3,3,3.4,3.8,4.3,4.8,5.3,5.9,6.4,7,7.6,8.3,9,9.8,10.5,11.3,12.6,13.9,15],
                    [0,1,4,9,15,28,42,52,60,65,69,68,64,54,42,33,24,17,11,4.5,2,0])
gome_top_blue = ([3.05,4,4.8,5.3,5.7,6.3,6.86,7.4,8,8.5,8.94,9.5,10.1,11,11.94,12.6,13.3,14.2,15.2,16.2,17.25,18.9,20],
                 [0,2,6,13,24,55,80,92,97,94,87,76,65,62,65,53,39,24,13,9,7,2,0])
gome_top_red = ([-1,1,2.7,3.7,4.55,5.4,6.17,6.8,7.3,7.9,8.5,9.3,10.1,11.3,12.6,13.2,13.8,14.6,15.4,16.8,17.7,18.6,19.3,20],
                [0,4,10,15,22,32,43,50,55,56,55,50,44,43,44,41,36,32,30,30,25,17,10,2])
gome_side_blue = ([3.5,4.2,4.8,5.2,5.7,6.3,6.77,7.2,7.6,8.2,8.7,9.3,9.8,10.4,11.1,11.6,12,12.7,13.5,14.2,14.85,18],
                  [0,6,14,22,36,58,73,77,73,58,45,32,23,29,41,41,36,21,9,4,2,0])
gome_side_red = ([0,1.5,3,4,4.8,5.4,5.9,6.5,7.2,8.2,9.2,10,10.9,11.8,12.7,13.5,14.2,15,15.7,16.8,17.9],
                 [0,0.5,2,6,14,24,32,35,36,36,36,40,44,44,41,33,23,12,5,1,0])
temis_top_blue = ([3.14,4.2,5,5.6,6.14,6.6,7.07,7.5,7.88,8.4,8.9,9.5,10,10.8,11.7,12.5,13.3,14.1,14.9,15.8,16.8,18.6,20],
                  [0,4,10,19,32,52,69,75,76,70,61,53,50,51,54,45,32,20,13,9,6,1.5,0])
temis_top_red = ([-1,1,2.9,4,5,5.7,6.4,7,7.5,8.1,8.7,9.5,10.3,11.5,12.8,13.8,14.9,15.8,16.8,17.6,18.4,19.2,20],
                 [0,3,10,16,24,31,39,45,49,48,45,41,39,36,32,27,22,20,19,17,13,7,2])
temis_side_blue = ([2.84,3.8,4.6,5.2,5.7,6.2,6.66,7.2,7.86,8.6,9.4,10.1,10.9,11.6,12.2,13,14,14.8,15.7,17.5],
                   [0,2,6,16,32,53,65,60,50,40,32,33,37,36,32,24,15,8,3.5,0])
temis_side_red = ([2.84,3.8,4.6,5.3,5.9,6.5,7.2,8,8.7,9.6,10.5,11.1,11.8,12.9,14,14.5,15,15.7,16.4,17.2,17.9,20],
                  [0,0.5,2,11,24,29,32,34,35,31,26,26,28,33,39,40,39,33,24,13,6,0])

# ---- panel text ----
y_labels = ['UVI-CAMS','UVI-OMUVBG','UVI-TROPOMI','UVI-GOME-SN','UVI-TEMIS-SN']
stat_texts = ['pearsonr = 0.97; p = 0','pearsonr = 0.86; p = 1.2e-28','pearsonr = 0.96; p = 9.4e-119',
              'pearsonr = 0.88; p = 3e-37','pearsonr = 0.92; p = 7.7e-58']
x_ticks = [0,5,10,15,20]
y_ticks = [0,2.5,5,7.5,10,12.5,15,17.5,20]

RED = '#C44E52'
BLUE = '#4C72B0'
W, H = 1442, 935

sns.set_theme(style='darkgrid')
plt.rcParams['font.family'] = ['Liberation Sans', 'DejaVu Sans']

fig = plt.figure(figsize=(W/100, H/100), dpi=100)


def box(left, top, right, bottom):
    return [left/W, 1-bottom/H, (right-left)/W, (bottom-top)/H]


def rows_to_frame(rows):
    return pd.DataFrame([(x, y) for y, xs in rows.items() for x in xs], columns=['x', 'y'])


def bars(ax, edges, heights, side=False):
    key = 'y' if side else 'x'
    sns.histplot(ax=ax, **{key: edges[:-1]}, weights=heights, bins=edges,
                 color='#98989e', edgecolor='#c4c4ca', linewidth=1, alpha=1)


def curve(ax, data, color, lw, side=False):
    uvi, dens = data
    if side:
        sns.lineplot(x=dens, y=uvi, ax=ax, color=color, lw=lw, sort=False, estimator=None)
    else:
        sns.lineplot(x=uvi, y=dens, ax=ax, color=color, lw=lw, sort=False, estimator=None)


def panel(i, left, top, red, blue, line, top_hist, side_hist, top_kde, side_kde, legend_loc):
    right = left+303
    main_top = top+56
    main_bottom = main_top+321

    ax = fig.add_axes(box(left, main_top, right, main_bottom))
    ax_top = fig.add_axes(box(left, top, right, top+45))
    ax_side = fig.add_axes(box(right+16, main_top, right+53, main_bottom))

    r = rows_to_frame(red)
    b = rows_to_frame(blue)
    sns.scatterplot(data=r, x='x', y='y', ax=ax, marker='o', s=36, facecolors='none',
                    edgecolors=RED, linewidth=1.25, zorder=3)
    sns.scatterplot(data=b, x='x', y='y', ax=ax, marker='x', s=50, color=BLUE, linewidth=2, zorder=4)

    lx, ly, half = line
    ax.fill_between(lx, [a-c for a, c in zip(ly, half)], [a+c for a, c in zip(ly, half)],
                    color='#888888', alpha=0.3, lw=0, zorder=5)
    sns.lineplot(x=lx, y=ly, ax=ax, color='#111111', lw=2.6, sort=False, estimator=None, zorder=6)

    ax.set_xlim(-0.95, 20)
    ax.set_ylim(-0.95, 20)
    ax.set_xticks(x_ticks)
    ax.set_yticks(y_ticks)
    ax.set_yticklabels([f'{v:.1f}' for v in y_ticks])
    ax.tick_params(labelsize=11, pad=3)
    ax.set_xlabel('UVI-RADIO', fontsize=16, labelpad=5)
    ax.set_ylabel(y_labels[i], fontsize=16, labelpad=5)
    leg = ax.legend(handles=[Line2D([], [], alpha=0)], labels=[stat_texts[i]], loc=legend_loc, frameon=True, fontsize=11)
    leg.set_zorder(10)

    bars(ax_top, *top_hist)
    curve(ax_top, top_kde[0], BLUE, 2)
    curve(ax_top, top_kde[1], RED, 1.6)
    ax_top.set_xlim(-0.95, 20)
    ax_top.set_ylim(0, 100)
    ax_top.set_xticks(x_ticks)
    ax_top.set_yticks([])
    ax_top.set_xticklabels([])
    ax_top.set_xlabel('')
    ax_top.set_ylabel('')
    ax_top.tick_params(length=0)

    bars(ax_side, *side_hist, side=True)
    curve(ax_side, side_kde[0], BLUE, 2, side=True)
    curve(ax_side, side_kde[1], RED, 1.6, side=True)
    ax_side.set_ylim(-0.95, 20)
    ax_side.set_xlim(0, 100)
    ax_side.set_yticks(y_ticks)
    ax_side.set_xticks([])
    ax_side.set_yticklabels([])
    ax_side.set_xlabel('')
    ax_side.set_ylabel('')
    ax_side.tick_params(length=0)


panel(0, 81, 48, cams_red, cams_blue, cams_line, (cams_top_edges, cams_top_bars), (cams_side_edges, cams_side_bars),
      (cams_top_blue, cams_top_red), (cams_side_blue, cams_side_red), 'lower right')
panel(1, 577, 48, omuvbg_red, omuvbg_blue, omuvbg_line, (omuvbg_top_edges, omuvbg_top_bars), (omuvbg_side_edges, omuvbg_side_bars),
      (omuvbg_top_blue, omuvbg_top_red), (omuvbg_side_blue, omuvbg_side_red), 'upper right')
panel(2, 1074, 48, tropomi_red, tropomi_blue, tropomi_line, (tropomi_top_edges, tropomi_top_bars), (tropomi_side_edges, tropomi_side_bars),
      (tropomi_top_blue, tropomi_top_red), (tropomi_side_blue, tropomi_side_red), 'upper right')
panel(3, 81, 501, gome_red, gome_blue, gome_line, (gome_top_edges, gome_top_bars), (gome_side_edges, gome_side_bars),
      (gome_top_blue, gome_top_red), (gome_side_blue, gome_side_red), 'upper right')
panel(4, 577, 501, temis_red, temis_blue, temis_line, (temis_top_edges, temis_top_bars), (temis_side_edges, temis_side_bars),
      (temis_top_blue, temis_top_red), (temis_side_blue, temis_side_red), 'upper right')

fig.text(755/W, 1-19/H, 'Correlation between UVI-RADIO and SAT/MODEL UVI at ANTANANARIVO',
         fontsize=18, color='.15', ha='center', va='center')

plt.savefig('out.png', dpi=100)
